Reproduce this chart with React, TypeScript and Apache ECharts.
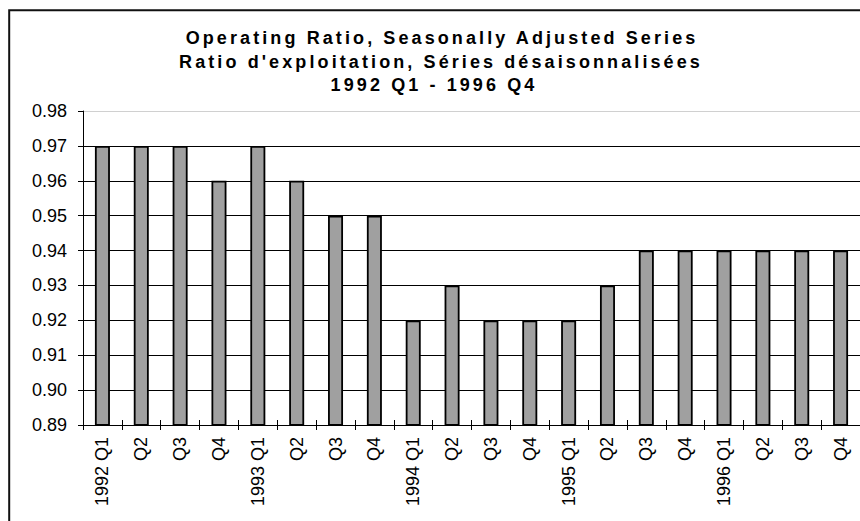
import React, { useEffect, useRef } from "react";
import * as echarts from "echarts";

const categories: string[] = [
  "1992 Q1", "Q2", "Q3", "Q4",
  "1993 Q1", "Q2", "Q3", "Q4",
  "1994 Q1", "Q2", "Q3", "Q4",
  "1995 Q1", "Q2", "Q3", "Q4",
  "1996 Q1", "Q2", "Q3", "Q4",
];

const ratioValues: number[] = [
  0.97, 0.97, 0.97, 0.96,
  0.97, 0.96, 0.95, 0.95,
  0.92, 0.93, 0.92, 0.92,
  0.92, 0.93, 0.94, 0.94,
  0.94, 0.94, 0.94, 0.94,
];

const titleLines: string[] = [
  "Operating Ratio, Seasonally Adjusted Series",
  "Ratio d'exploitation, Séries désaisonnalisées",
  "1992 Q1 - 1996 Q4",
];

const yMin = 0.89;
const yMax = 0.98;
const yStep = 0.01;

const FONT = "'Liberation Sans', Arial, sans-serif";

export default function App() {
  const ref = useRef<HTMLDivElement | null>(null);

  useEffect(() => {
    if (!ref.current) return;
    const chart = echarts.init(ref.current, null, { renderer: "svg" });
    const splitColors = ["#000", "#000", "#000", "#000", "#000", "#000", "#000", "#000", "#000", "#d0d0d0"];
    const titleX = [442, 441, 434];
    const titleY = [38, 61.7, 85.4];
    chart.setOption({
      animation: false,
      backgroundColor: "#fff",
      graphic: [
        {
          type: "rect",
          z: -10,
          shape: { x: 9.2, y: 10.2, width: 1000, height: 1000 },
          style: { fill: "none", stroke: "#111", lineWidth: 2 },
        },
        ...titleLines.map((t, i) => ({
          type: "text",
          x: titleX[i],
          y: titleY[i],
          style: {
            text: t,
            fill: "#000",
            font: `bold 18px ${FONT}`,
            textAlign: "center",
            textVerticalAlign: "middle",
          },
        })),
      ],
      grid: { left: 83, top: 111, width: 780, height: 314, containLabel: false },
      xAxis: [
        {
          type: "category",
          position: "bottom",
          data: categories,
          axisLine: { show: true, lineStyle: { color: "#000", width: 1 } },
          axisTick: { show: true, inside: false, length: 5, alignWithLabel: false, interval: 0, lineStyle: { color: "#000" } },
          axisLabel: {
            interval: 0,
            rotate: 90,
            margin: 12,
            color: "#000",
            fontSize: 18,
            fontFamily: FONT,
          },
          splitLine: { show: false },
        },
        {
          type: "category",
          position: "bottom",
          data: categories,
          axisLine: { show: false },
          axisTick: { show: true, inside: true, length: 5, alignWithLabel: false, interval: 0, lineStyle: { color: "#000" } },
          axisLabel: { show: false },
          splitLine: { show: false },
        },
      ],
      yAxis: {
        type: "value",
        min: yMin,
        max: yMax,
        interval: yStep,
        axisLine: { show: true, lineStyle: { color: "#000", width: 1 } },
        axisTick: { show: true, inside: false, length: 5, lineStyle: { color: "#000" } },
        axisLabel: {
          margin: 16,
          color: "#000",
          fontSize: 18,
          fontFamily: FONT,
          formatter: (v: number) => v.toFixed(2),
        },
        splitLine: { show: true, lineStyle: { color: splitColors, width: 1 } },
      },
      series: [
        {
          type: "bar",
          data: ratioValues,
          xAxisIndex: 0,
          barWidth: 15,
          itemStyle: { color: "#a0a0a0", borderColor: "#000", borderWidth: 1.8 },
        },
      ],
    });
    return () => chart.dispose();
  }, []);

  return (
    <>
      <style>{`text[style*="bold"] { letter-spacing: 3.1px; }`}</style>
      <div
        ref={ref}
        style={{ position: "fixed", left: 0, top: 0, width: 860, height: 521 }}
      />
    </>
  );
}
